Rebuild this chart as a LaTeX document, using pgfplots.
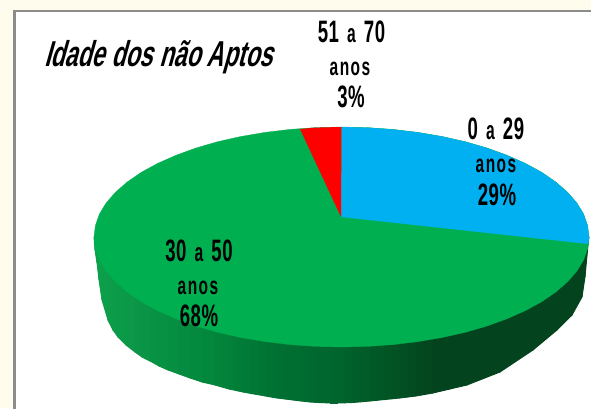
\documentclass[border=0pt]{standalone}
\usepackage{fontspec}
\setmainfont{Liberation Sans}
\newfontfamily\lab[FakeStretch=0.6,WordSpace=1.4,LetterSpace=2]{Liberation Sans}
\newfontfamily\anos[FakeStretch=0.62,LetterSpace=6]{Liberation Sans}
\newfontfamily\ttl[FakeStretch=0.645,FakeSlant=0.28]{Liberation Sans}
\usepackage{pgfplots}
\pgfplotsset{compat=1.18}

\definecolor{pagebg}{RGB}{254,252,236}
\definecolor{framegray}{RGB}{140,140,140}
\definecolor{piegreen}{RGB}{0,176,80}
\definecolor{pieblue}{RGB}{0,176,240}

\newcommand{\biglab}[1]{\fontsize{31}{33}\selectfont\lab\bfseries #1}
\newcommand{\sma}{{\fontsize{26}{28}\selectfont a}}
\newcommand{\anoslab}{\fontsize{25}{27}\selectfont\anos\bfseries anos}

% pie outlines in picture pixels, y counted from the top
\pgfplotstableread{
x y
341.5 127
315.6 127.6
290.0 129.4
265.0 132.4
240.8 136.5
217.7 141.7
196.0 148.0
175.9 155.3
157.6 163.4
141.3 172.3
127.2 182.0
115.4 192.3
106.1 203.0
99.4 214.1
95.4 225.5
94.0 237
95.4 248.5
99.4 259.9
106.1 271.0
115.4 281.7
127.2 292.0
141.3 301.7
157.6 310.6
175.9 318.7
196.0 326.0
217.7 332.3
240.8 337.5
265.0 341.6
290.0 344.6
315.6 346.4
341.5 347
367.4 346.4
393.0 344.6
418.0 341.6
442.2 337.5
465.3 332.3
487.0 326.0
507.1 318.7
525.4 310.6
541.7 301.7
555.8 292.0
567.6 281.7
576.9 271.0
583.6 259.9
587.6 248.5
589.0 237
587.6 225.5
583.6 214.1
576.9 203.0
567.6 192.3
555.8 182.0
541.7 172.3
525.4 163.4
507.1 155.3
487.0 148.0
465.3 141.7
442.2 136.5
418.0 132.4
393.0 129.4
367.4 127.6
}\topface

\pgfplotstableread{
x y
341 217
341.5 127
367.4 127.6
393.0 129.4
418.0 132.4
442.2 136.5
465.3 141.7
487.0 148.0
507.1 155.3
525.4 163.4
541.7 172.3
555.8 182.0
567.6 192.3
576.9 203.0
583.6 214.1
587.6 225.5
589.0 237
588.5 244
}\blueslice

\pgfplotstableread{
x y
341 217
341.5 127
315.6 127.6
300 129
}\redslice

\begin{document}
\begin{tikzpicture}
\begin{axis}[
    scale only axis, width=591pt, height=408pt,
    xmin=0, xmax=591, ymin=0, ymax=408, y dir=reverse,
    hide axis, clip=true,
    colormap={side}{
      rgb255(94)=(14,160,76)
      rgb255(210)=(3,135,60)
      rgb255(280)=(0,112,50)
      rgb255(340)=(0,100,45)
      rgb255(395)=(2,82,36)
      rgb255(435)=(3,68,30)
      rgb255(589)=(3,68,30)
    },
]
\addplot[fill=pagebg, draw=none] coordinates {(0,0) (591,0) (591,408) (0,408)} --cycle;
\addplot[fill=white, draw=framegray, line width=2.4pt]
  coordinates {(14.4,420) (14.4,11.2) (600,11.2) (600,420)} --cycle;

% side wall of the pie, one row along y=237 and one along the lower edge
\addplot[surf, shader=flat mean, point meta=x, line width=0.9pt] table {
x y
94 237
95 237
97 237
99 237
102 237
108 237
113 237
118 237
126 237
135 237
142 237
150 237
159 237
168 237
179 237
190 237
202 237
215 237
222 237
229 237
236 237
243 237
251 237
260 237
268 237
277 237
285 237
293 237
301 237
310 237
316 237
323 237
330 237
337 237
345 237
353 237
361 237
370 237
377 237
385 237
392 237
400 237
408 237
416 237
424 237
433 237
450 237
467 237
500 237
533 237
557 237
572 237
582 237
585 237
588 237
589 237

94 237
95 250
97 263
99 280
102 300
108 320
113 330
118 337
126 345
135 352
142 357
150 361
159 366
168 370
179 374
190 378
202 382
215 385
222 387
229 389
236 390.5
243 392
251 393.5
260 395
268 396.5
277 398
285 399
293 400
301 401
310 402
316 402.4
323 402.7
330 403
337 403
345 402.8
353 402.5
361 401.8
370 401
377 400.3
385 399.5
392 398.8
400 398
408 397
416 396
424 394.6
433 393
450 389
467 385
500 372
533 350
557 330
572 315
582 297
585 277
588 245
589 237
};

\addplot[fill=piegreen, draw=piegreen, line width=0.3pt] table {\topface} --cycle;
\addplot[fill=pieblue, draw=none] table {\blueslice} --cycle;
\addplot[fill=red, draw=none] table {\redslice} --cycle;

\node[anchor=base west, inner sep=0pt] at (axis cs:44,66) {\fontsize{36}{38}\selectfont\ttl\bfseries Idade dos não Aptos};

\node[anchor=base, inner sep=0pt] at (axis cs:351.5,42) {\biglab{51 \sma{} 70}};
\node[anchor=base, inner sep=0pt] at (axis cs:350,75) {\anoslab};
\node[anchor=base, inner sep=0pt] at (axis cs:351,107) {\biglab{3\%}};

\node[anchor=base, inner sep=0pt] at (axis cs:496,139) {\biglab{0 \sma{} 29}};
\node[anchor=base, inner sep=0pt] at (axis cs:496,172) {\anoslab};
\node[anchor=base, inner sep=0pt] at (axis cs:497,205) {\biglab{29\%}};

\node[anchor=base, inner sep=0pt] at (axis cs:199,261) {\biglab{30 \sma{} 50}};
\node[anchor=base, inner sep=0pt] at (axis cs:198,294) {\anoslab};
\node[anchor=base, inner sep=0pt] at (axis cs:199,326) {\biglab{68\%}};
\end{axis}
\end{tikzpicture}
\end{document}
